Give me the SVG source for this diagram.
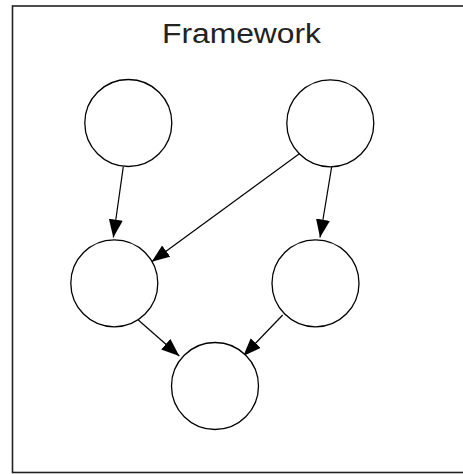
<svg xmlns="http://www.w3.org/2000/svg" width="463" height="474" viewBox="0 0 463 474">
<style>
.node circle{fill:#fff;stroke:#000;stroke-width:1.3}
.edge{stroke:#000;stroke-width:1.2;fill:none;marker-end:url(#arr)}
.title{font-family:"Liberation Sans",Arial,sans-serif;font-size:27px;fill:#222}
</style>
<defs>
<marker id="arr" markerUnits="userSpaceOnUse" markerWidth="20" markerHeight="16" refX="18" refY="7" orient="auto">
<path d="M0,0 L18,7 L0,14 z" fill="#000"/>
</marker>
</defs>
<rect width="463" height="474" fill="#fff"/>
<rect id="frame" x="12.5" y="6" width="462" height="466.5" fill="#fff" stroke="#222" stroke-width="1.6"/>
<text class="title" x="241.5" y="43" text-anchor="middle" textLength="159" lengthAdjust="spacingAndGlyphs">Framework</text>
<g id="connectors">
<line class="edge" x1="123.3" y1="166.7" x2="113.3" y2="237.5"/>
<line class="edge" x1="300" y1="153.3" x2="151.7" y2="261.7"/>
<line class="edge" x1="331.7" y1="166.7" x2="320" y2="237.5"/>
<line class="edge" x1="138.3" y1="320" x2="179.3" y2="356"/>
<line class="edge" x1="282.7" y1="315" x2="243.3" y2="356"/>
</g>
<g id="n1" class="node"><circle cx="128.3" cy="123" r="43.5"/></g>
<g id="n2" class="node"><circle cx="330.3" cy="123.3" r="43.5"/></g>
<g id="n3" class="node"><circle cx="114.3" cy="283.3" r="43.5"/></g>
<g id="n4" class="node"><circle cx="315.5" cy="283.3" r="43.5"/></g>
<g id="n5" class="node"><circle cx="215" cy="386" r="43.5"/></g>
</svg>
